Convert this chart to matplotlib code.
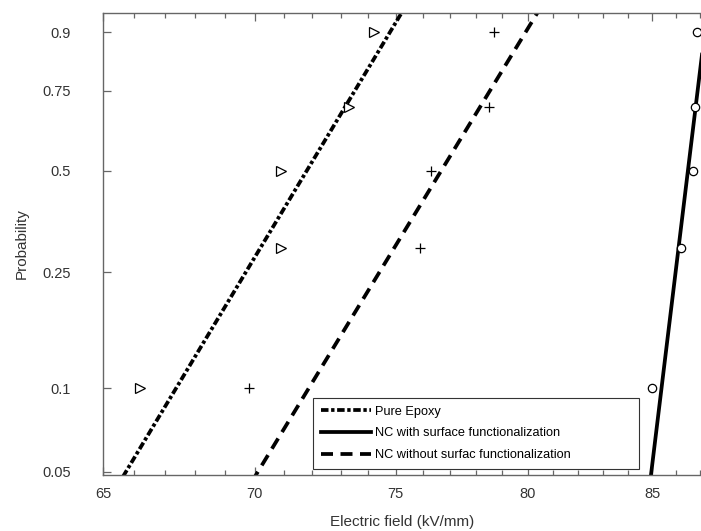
import numpy as np
import matplotlib.pyplot as plt
from matplotlib.ticker import FixedLocator, NullFormatter, NullLocator

plt.rcParams["font.family"] = ["Liberation Sans", "DejaVu Sans"]

# breakdown field (kV/mm) and plotting probability for each sample set
prob = [0.1, 0.3, 0.5, 0.7, 0.9]
epoxy_field = [66.2, 70.9, 70.9, 73.3, 74.2]
nc_func_field = [85.0, 86.2, 86.7, 86.8, 86.9]
nc_nofunc_field = [69.8, 75.9, 76.3, 78.5, 78.7]

# Weibull fits: shape (beta) and scale (eta, kV/mm)
labels = ["Pure Epoxy", "NC with surface functionalization", "NC without surfac functionalization"]
fit_shape = [29.5, 146.0, 29.1]
fit_scale = [72.7, 86.72, 77.65]

y_ticks = [0.05, 0.1, 0.25, 0.5, 0.75, 0.9]
y_tick_labels = ["0.05", "0.1", "0.25", "0.5", "0.75", "0.9"]
x_ticks = [65, 70, 75, 80, 85]


def weibull_fwd(p):
    p = np.clip(np.asarray(p, dtype=float), 1e-12, 1 - 1e-12)
    return np.log(-np.log(1 - p))


def weibull_inv(y):
    return 1 - np.exp(-np.exp(np.asarray(y, dtype=float)))


fig = plt.figure(figsize=(7.01, 5.31), dpi=100)
ax = fig.add_axes([0.1469, 0.1055, 0.8545, 0.87])

ax.set_xscale("log")
ax.set_yscale("function", functions=(weibull_fwd, weibull_inv))

E = np.linspace(60, 90, 600)
styles = [
    dict(linestyle=(0, (2.0, 0.7, 0.9, 0.7))),
    dict(linestyle="-"),
    dict(linestyle=(0, (3.2, 2.0))),
]
for shape, scale, lab, st in zip(fit_shape, fit_scale, labels, styles):
    p = 1 - np.exp(-(E / scale) ** shape)
    ax.plot(E, p, color="black", linewidth=2.7, label=lab, **st)

ax.plot(epoxy_field, prob, linestyle="none", marker=">", markersize=6.5,
        markerfacecolor="white", markeredgecolor="black", markeredgewidth=0.9)
ax.plot(nc_func_field, prob, linestyle="none", marker="o", markersize=6,
        markerfacecolor="white", markeredgecolor="black", markeredgewidth=0.9, clip_on=False)
ax.plot(nc_nofunc_field, prob, linestyle="none", marker="+", markersize=7,
        markeredgecolor="black", markeredgewidth=0.9)

ax.set_xlim(65, 87.1)
ax.set_ylim(weibull_inv(-3.0), weibull_inv(1.0))

ax.xaxis.set_major_locator(FixedLocator(x_ticks))
ax.set_xticklabels([str(v) for v in x_ticks])
ax.xaxis.set_minor_locator(FixedLocator([v for v in range(66, 88) if v not in x_ticks]))
ax.xaxis.set_minor_formatter(NullFormatter())

ax.yaxis.set_major_locator(FixedLocator(y_ticks))
ax.set_yticklabels(y_tick_labels)
ax.yaxis.set_minor_locator(NullLocator())

ax.tick_params(axis="x", which="major", direction="in", top=True, length=5.5,
               width=0.9, color="#666666", labelsize=10.5, labelcolor="#333333", pad=9)
ax.tick_params(axis="x", which="minor", direction="in", top=True, length=3.5,
               width=0.9, color="#666666")
ax.tick_params(axis="y", which="major", direction="in", right=False, length=6,
               width=0.9, color="#666666", labelsize=10.5, labelcolor="#333333", pad=23)

for side in ["left", "bottom", "top"]:
    ax.spines[side].set_color("#666666")
    ax.spines[side].set_linewidth(1.0)
ax.spines["right"].set_visible(False)

ax.set_xlabel("Electric field (kV/mm)", fontsize=11, color="#333333", labelpad=10)
ax.set_ylabel("Probability", fontsize=11, color="#333333", labelpad=10)

leg = ax.legend(loc="lower left", bbox_to_anchor=(0.3506, 0.013, 0.5444, 0.15), mode="expand",
                borderaxespad=0, fancybox=False, framealpha=1, edgecolor="#333333",
                fontsize=9.2, handlelength=3.9, handletextpad=0.35, labelspacing=0.76,
                borderpad=0.62)
leg.get_frame().set_linewidth(0.8)

plt.savefig("out.png", dpi=100)
